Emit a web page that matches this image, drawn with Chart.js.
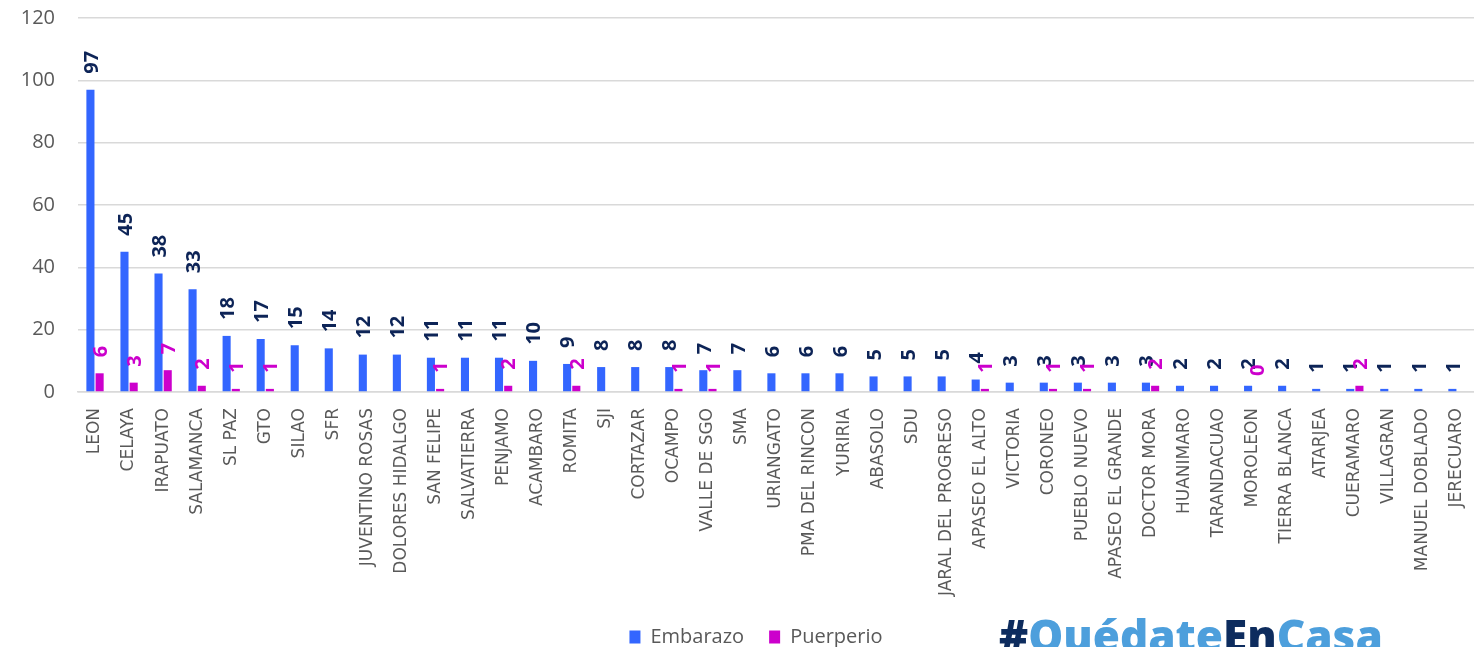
<!DOCTYPE html>
<html>
<head>
<meta charset="utf-8">
<script src="https://cdn.jsdelivr.net/npm/chart.js@4"></script>
<style>
  html,body{margin:0;padding:0;background:#fff;}
  #wrap{position:relative;width:1474px;height:647px;overflow:hidden;}
  #logo{position:absolute;left:999px;top:613px;font-family:"Open Sans",sans-serif;font-weight:800;font-size:44px;line-height:44px;white-space:nowrap;letter-spacing:0px;}
  #logo .d{color:#0d2c5e;} #logo .l{color:#4d9fdc;}
</style>
</head>
<body>
<div id="wrap">
<canvas id="c" width="1474" height="647"></canvas>
<div id="logo"><span class="d">#</span><span class="l">Quédate</span><span class="d">En</span><span class="l">Casa</span></div>
</div>
<script>
const categories = ["LEON","CELAYA","IRAPUATO","SALAMANCA","SL PAZ","GTO","SILAO","SFR","JUVENTINO ROSAS","DOLORES HIDALGO","SAN FELIPE","SALVATIERRA","PENJAMO","ACAMBARO","ROMITA","SJI","CORTAZAR","OCAMPO","VALLE DE SGO","SMA","URIANGATO","PMA DEL RINCON","YURIRIA","ABASOLO","SDU","JARAL DEL PROGRESO","APASEO EL ALTO","VICTORIA","CORONEO","PUEBLO NUEVO","APASEO EL GRANDE","DOCTOR MORA","HUANIMARO","TARANDACUAO","MOROLEON","TIERRA BLANCA","ATARJEA","CUERAMARO","VILLAGRAN","MANUEL DOBLADO","JERECUARO"];
const embarazo = [97,45,38,33,18,17,15,14,12,12,11,11,11,10,9,8,8,8,7,7,6,6,6,5,5,5,4,3,3,3,3,3,2,2,2,2,1,1,1,1,1];
const puerperio = [6,3,7,2,1,1,null,null,null,null,1,null,2,null,2,null,null,1,1,null,null,null,null,null,null,null,1,null,1,1,null,2,null,null,0,null,null,2,null,null,null];
const seriesNames = ["Embarazo","Puerperio"];
const yTicks = [0,20,40,60,80,100,120];

const colors = ["#3366ff","#cc00cc"];
const labelColors = ["#0d2457","#cc00cc"];

const dataLabels = {
  id:'dataLabels',
  afterDatasetsDraw(chart){
    const ctx = chart.ctx;
    chart.data.datasets.forEach((ds,di)=>{
      const meta = chart.getDatasetMeta(di);
      meta.data.forEach((el,i)=>{
        const v = ds.data[i];
        if(v===null||v===undefined) return;
        ctx.save();
        ctx.translate(el.x+1.5, el.y-16);
        ctx.rotate(-Math.PI/2);
        ctx.font = 'bold 20px "Open Sans", sans-serif';
        ctx.fillStyle = labelColors[di];
        ctx.textAlign = 'left';
        ctx.textBaseline = 'middle';
        ctx.fillText(String(v),0,0);
        ctx.restore();
      });
    });
  }
};

const customLegend = {
  id:'customLegend',
  afterDraw(chart){
    const ctx = chart.ctx;
    ctx.save();
    ctx.font = '20px "Open Sans", sans-serif';
    const box = 11, gapText = 10, gapItem = 25;
    const widths = chart.data.datasets.map(d=>box+gapText+ctx.measureText(d.label).width);
    const total = widths.reduce((a,b)=>a+b,0)+gapItem*(widths.length-1);
    let x = 756 - total/2;
    const cy = 637;
    chart.data.datasets.forEach((d,i)=>{
      ctx.fillStyle = d.backgroundColor;
      ctx.fillRect(x, cy-6.5, box, 13);
      ctx.fillStyle = '#595959';
      ctx.textAlign='left'; ctx.textBaseline='middle';
      ctx.fillText(d.label, x+box+gapText, cy);
      x += widths[i]+gapItem;
    });
    ctx.restore();
  }
};

new Chart(document.getElementById('c'),{
  type:'bar',
  data:{
    labels:categories,
    datasets:[
      {label:seriesNames[0],data:embarazo,backgroundColor:colors[0],categoryPercentage:0.54,barPercentage:0.88},
      {label:seriesNames[1],data:puerperio,backgroundColor:colors[1],categoryPercentage:0.54,barPercentage:0.88}
    ]
  },
  options:{
    responsive:false,
    animation:false,
    layout:{padding:{left:0,right:0,top:18,bottom:0}},
    plugins:{legend:{display:false},tooltip:{enabled:false}},
    scales:{
      x:{
        grid:{display:false},
        border:{color:'#d9d9d9',width:1.5},
        ticks:{minRotation:90,maxRotation:90,autoSkip:false,color:'#595959',font:{family:'"DejaVu Sans"',size:17},padding:8},
        afterFit(s){s.height=255;s.paddingLeft=0;s.paddingRight=0;}
      },
      y:{
        min:0,max:120,
        afterBuildTicks(s){s.ticks=yTicks.map(v=>({value:v}));},
        grid:{color:'#d9d9d9',lineWidth:1.5,drawTicks:false},
        border:{display:false},
        ticks:{color:'#595959',font:{family:'"Open Sans"',size:20},padding:23},
        afterFit(s){s.width=78;s.paddingTop=0;s.paddingBottom=0;}
      }
    }
  },
  plugins:[dataLabels,customLegend]
});
</script>
</body>
</html>
